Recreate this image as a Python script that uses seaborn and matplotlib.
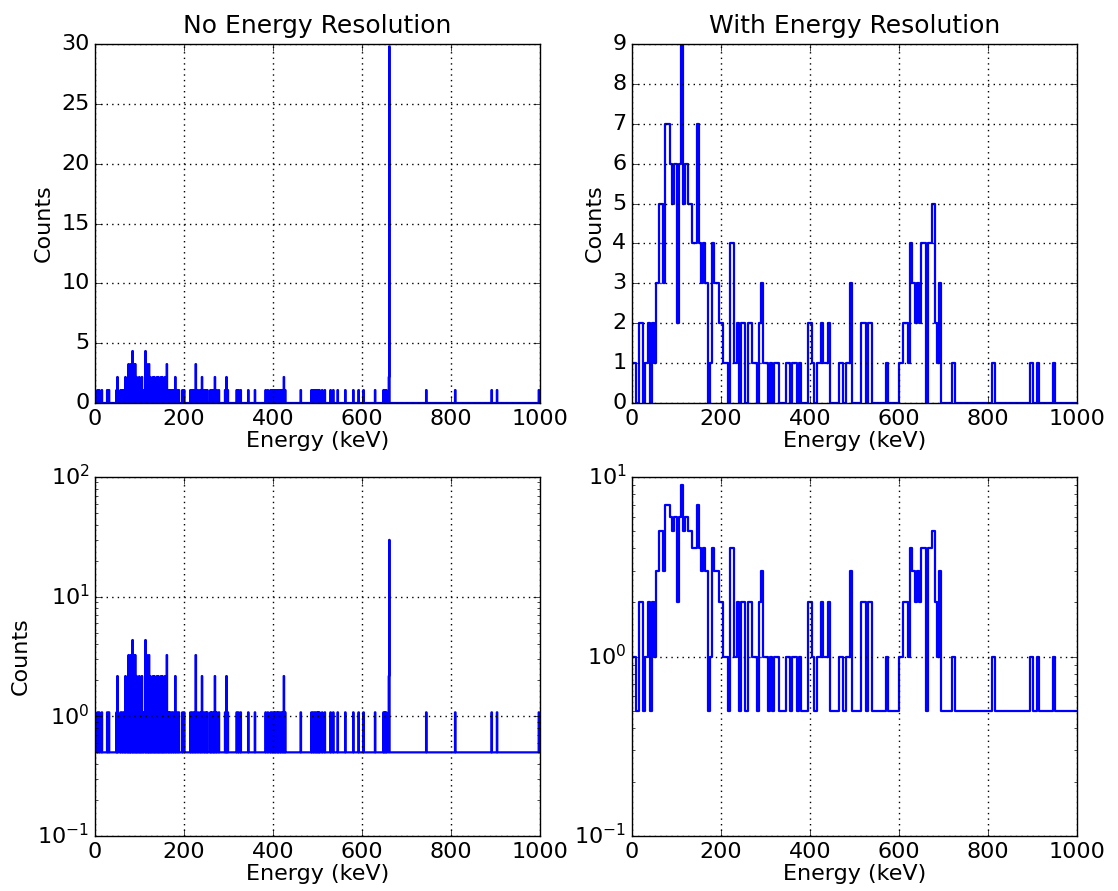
import numpy as np
import pandas as pd
import matplotlib
matplotlib.use("Agg")
import matplotlib.pyplot as plt
import seaborn as sns
from matplotlib.ticker import MultipleLocator

# old-school matplotlib look
plt.style.use("classic")
plt.rcParams.update({
    "figure.facecolor": "white",
    "savefig.facecolor": "white",
    "font.family": ["DejaVu Sans"],
    "mathtext.fontset": "dejavusans",
    "axes.unicode_minus": False,
    "grid.linestyle": ":",
    "grid.color": "k",
    "grid.linewidth": 1.0,
    "xtick.labelsize": 16,
    "ytick.labelsize": 16,
    "axes.labelsize": 16,
    "axes.titlesize": 18,
    "xtick.major.size": 5,
    "ytick.major.size": 5,
    "xtick.minor.size": 2.5,
    "ytick.minor.size": 2.5,
})

# --- Data ---
# No energy resolution: 1 keV bins, only the non-empty ones listed
raw_energy = [5, 9, 15, 27, 31, 48, 50, 57, 61, 65, 68, 72, 75, 78, 80, 84, 87, 90,
              93, 96, 99, 102, 105, 108, 113, 116, 119, 121, 124, 127, 130, 133, 136,
              139, 142, 145, 148, 151, 154, 157, 161, 165, 168, 172, 176, 180, 184,
              188, 196, 200, 214, 218, 222, 226, 231, 236, 240, 245, 249, 252, 259,
              262, 266, 269, 273, 278, 292, 295, 298, 318, 322, 327, 344, 359, 383,
              388, 394, 398, 402, 405, 409, 412, 416, 420, 424, 427, 462, 486, 490,
              494, 498, 501, 504, 510, 516, 529, 535, 545, 562, 580, 592, 603, 629,
              648, 651, 654, 660, 661, 744, 809, 891, 903, 997]
raw_counts = [1.08, 1.08, 1.08, 1.08, 1.08, 1.08, 2.17, 1.08, 1.08, 1.08, 2.17, 1.08,
              3.25, 2.17, 3.25, 4.34, 3.25, 3.25, 2.17, 1.08, 2.17, 1.08, 2.17, 1.08,
              4.34, 3.25, 2.17, 3.25, 2.17, 1.08, 2.17, 2.17, 1.08, 2.17, 2.17, 1.08,
              2.17, 2.17, 1.08, 2.17, 3.25, 1.08, 1.08, 1.08, 1.08, 2.17, 1.08, 1.08,
              1.08, 1.08, 1.08, 1.08, 1.08, 3.25, 1.08, 1.08, 2.17, 1.08, 1.08, 1.08,
              1.08, 1.08, 1.08, 2.17, 1.08, 1.08, 1.08, 2.17, 1.08, 1.08, 1.08, 1.08,
              1.08, 1.08, 1.08, 1.08, 1.08, 1.08, 1.08, 1.08, 1.08, 1.08, 1.08, 1.08,
              2.17, 1.08, 1.08, 1.08, 1.08, 1.08, 1.08, 1.08, 1.08, 1.08, 1.08, 1.08,
              1.08, 1.08, 1.08, 1.08, 1.08, 1.08, 1.08, 1.08, 1.08, 1.08, 2.17, 29.8,
              1.08, 1.08, 1.08, 1.08, 1.08]

# With energy resolution: 5 keV bins from 0 to 1000 keV (one row = 50 keV)
res_counts = [
    1, 1, 0, 2, 2, 0, 1, 2, 0, 2,   # 0-50
    1, 3, 5, 5, 3, 7, 7, 6, 5, 6,   # 50-100
    2, 6, 9, 5, 6, 5, 5, 4, 4, 7,   # 100-150
    4, 3, 4, 3, 0, 1, 4, 3, 3, 2,   # 150-200
    2, 1, 1, 0, 4, 4, 1, 2, 0, 2,   # 200-250
    2, 0, 2, 2, 1, 1, 0, 2, 3, 1,   # 250-300
    1, 0, 1, 0, 1, 1, 0, 0, 0, 1,   # 300-350
    1, 0, 1, 1, 0, 1, 0, 0, 0, 2,   # 350-400
    2, 1, 0, 1, 1, 2, 1, 1, 2, 0,   # 400-450
    0, 0, 0, 1, 1, 0, 1, 1, 3, 0,   # 450-500
    0, 0, 0, 2, 2, 0, 2, 2, 0, 0,   # 500-550
    0, 0, 0, 0, 1, 0, 0, 0, 0, 0,   # 550-600
    1, 1, 2, 2, 1, 4, 3, 2, 3, 2,   # 600-650
    4, 4, 0, 4, 4, 5, 2, 1, 3, 0,   # 650-700
    0, 0, 0, 0, 1, 0, 0, 0, 0, 0,   # 700-750
    0, 0, 0, 0, 0, 0, 0, 0, 0, 0,   # 750-800
    0, 0, 1, 0, 0, 0, 0, 0, 0, 0,   # 800-850
    0, 0, 0, 0, 0, 0, 0, 0, 0, 1,   # 850-900
    0, 0, 1, 0, 0, 0, 0, 0, 0, 1,   # 900-950
    0, 0, 0, 0, 0, 0, 0, 0, 0, 0,   # 950-1000
]

raw_hist = np.zeros(1000)
raw_hist[raw_energy] = raw_counts
df_raw = pd.DataFrame({"energy": np.arange(1000) + 0.5, "counts": raw_hist})

df_res = pd.DataFrame({"energy": np.arange(0, 1000, 5) + 2.5,
                       "counts": np.array(res_counts, dtype=float)})

LOG_FLOOR = 0.5  # empty bins sit here on the log plots
df_raw["counts_log"] = df_raw["counts"].where(df_raw["counts"] > 0, LOG_FLOOR)
df_res["counts_log"] = df_res["counts"].where(df_res["counts"] > 0, LOG_FLOOR)

fig = plt.figure(figsize=(11.18, 8.91), dpi=100)
W, H = 445 / 1118, 359 / 891
ax_tl = fig.add_axes([95 / 1118, 1 - 403 / 891, W, H])
ax_tr = fig.add_axes([632 / 1118, 1 - 403 / 891, W, H])
ax_bl = fig.add_axes([95 / 1118, 1 - 836 / 891, W, H])
ax_br = fig.add_axes([632 / 1118, 1 - 836 / 891, W, H])


def draw_hist(ax, df, col, width):
    sns.histplot(data=df, x="energy", weights=col, binwidth=width, binrange=(0, 1000),
                 element="step", fill=False, color="b", linewidth=1.6, ax=ax)
    ax.set_xlim(0, 1000)
    ax.xaxis.set_major_locator(MultipleLocator(200))
    ax.grid(True)
    ax.set_xlabel("Energy (keV)", labelpad=2)
    ax.set_ylabel("")


draw_hist(ax_tl, df_raw, "counts", 1)
ax_tl.set_ylim(0, 30)
ax_tl.yaxis.set_major_locator(MultipleLocator(5))
ax_tl.set_ylabel("Counts")
ax_tl.set_title("No Energy Resolution", y=1.01)

draw_hist(ax_tr, df_res, "counts", 5)
ax_tr.set_ylim(0, 9)
ax_tr.yaxis.set_major_locator(MultipleLocator(1))
ax_tr.set_ylabel("Counts")
ax_tr.set_title("With Energy Resolution", y=1.01)

draw_hist(ax_bl, df_raw, "counts_log", 1)
ax_bl.set_yscale("log")
ax_bl.set_ylim(0.1, 100)
ax_bl.set_ylabel("Counts")

draw_hist(ax_br, df_res, "counts_log", 5)
ax_br.set_yscale("log")
ax_br.set_ylim(0.1, 10)

fig.savefig("out.png", dpi=100)
